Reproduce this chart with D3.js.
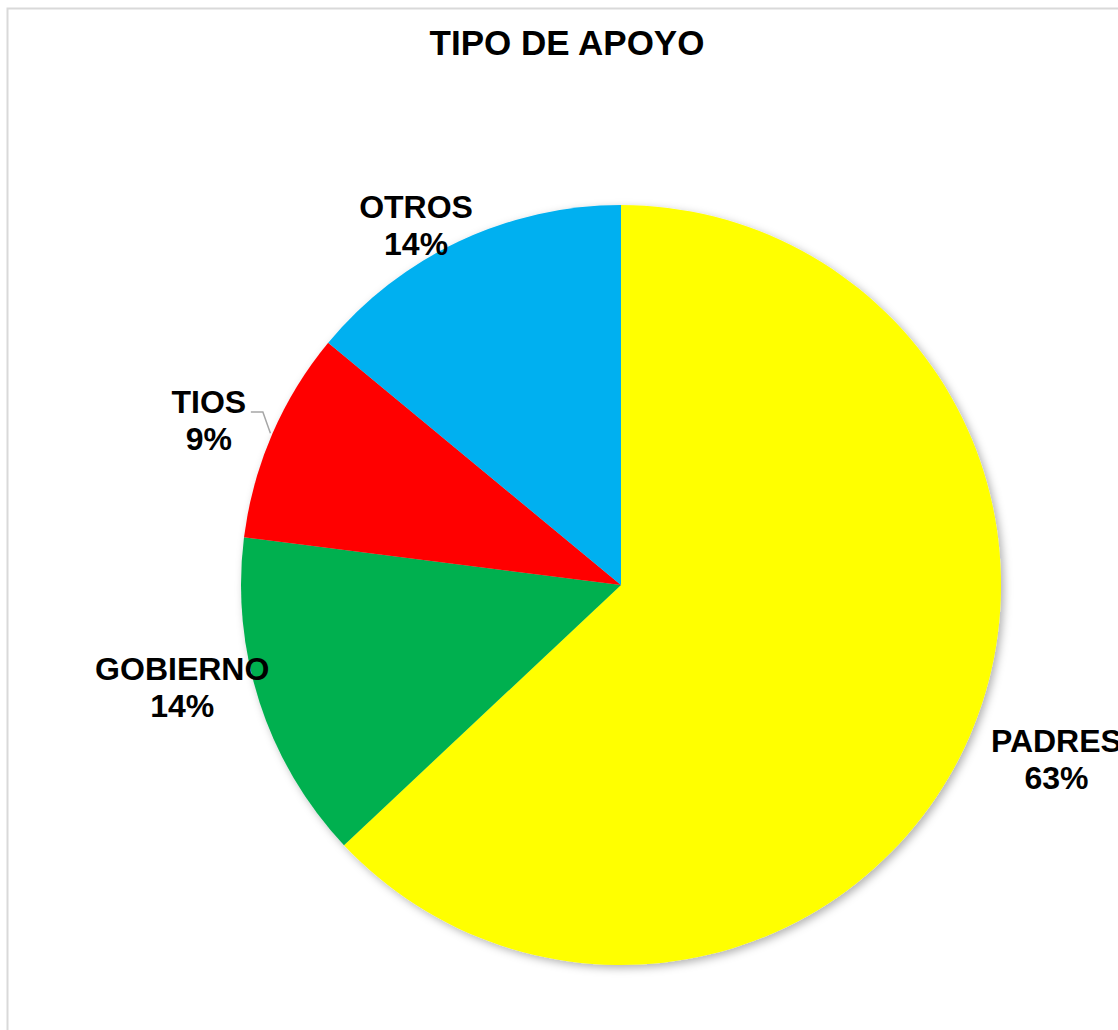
<!DOCTYPE html>
<html>
<head>
<meta charset="utf-8">
<script src="https://cdnjs.cloudflare.com/ajax/libs/d3/7.8.5/d3.min.js"></script>
<style>
  html, body { margin: 0; padding: 0; background: #fff; overflow: hidden; }
  svg { display: block; font-family: "Liberation Sans", Arial, sans-serif; }
</style>
</head>
<body>
<svg id="chart" width="1118" height="1030"></svg>
<script>
// Chart data
const title = "TIPO DE APOYO";
const categories = ["PADRES", "GOBIERNO", "TIOS", "OTROS"];
const values = [63, 14, 9, 14];
const colors = ["#FFFF00", "#00B050", "#FF0000", "#00B0F0"];

// Label placement (angle in degrees clockwise from 12 o'clock, distance from centre)
const labelAngle = [113, 255.6, 290.5, 329.6];
const labelDist = [473, 453, 440, 405];

const W = 1118, H = 1030;
const cx = 621, cy = 585, R = 380;

const svg = d3.select("#chart");

const defs = svg.append("defs");
const shadow = defs.append("filter").attr("id", "pieShadow")
  .attr("x", "-10%").attr("y", "-10%").attr("width", "120%").attr("height", "120%");
shadow.append("feDropShadow")
  .attr("dx", 3).attr("dy", 3).attr("stdDeviation", 4)
  .attr("flood-color", "#000").attr("flood-opacity", 0.3);

// chart area frame
svg.append("rect")
  .attr("x", 7.5).attr("y", 8.5)
  .attr("width", W + 50).attr("height", H + 50)
  .attr("fill", "#fff")
  .attr("stroke", "#d9d9d9").attr("stroke-width", 2);

// title
svg.append("text")
  .attr("x", 567).attr("y", 55)
  .attr("text-anchor", "middle")
  .attr("font-size", 35).attr("font-weight", "bold")
  .attr("fill", "#000")
  .text(title);

const data = categories.map((c, i) => ({ name: c, value: values[i], color: colors[i], i }));

const pie = d3.pie().sort(null).value(d => d.value);
const arc = d3.arc().innerRadius(0).outerRadius(R);
const arcs = pie(data);

const g = svg.append("g").attr("transform", `translate(${cx},${cy})`);

g.append("g").attr("filter", "url(#pieShadow)")
  .selectAll("path")
  .data(arcs)
  .join("path")
  .attr("d", arc)
  .attr("fill", d => d.data.color);

// label positions
const toRad = a => a * Math.PI / 180;
const labelPos = data.map((d, i) => {
  const a = toRad(labelAngle[i]);
  return [labelDist[i] * Math.sin(a), -labelDist[i] * Math.cos(a)];
});

// leader line for the small TIOS slice
const tiosIdx = categories.indexOf("TIOS");
const tiosArc = arcs[tiosIdx];
const tp = labelPos[tiosIdx];
const midA = (tiosArc.startAngle + tiosArc.endAngle) / 2;
const edge = [ (R + 2) * Math.sin(midA), -(R + 2) * Math.cos(midA) ];
g.append("polyline")
  .attr("points", [
    [tp[0] + 42, tp[1] - 19],
    [tp[0] + 54, tp[1] - 19],
    [edge[0], edge[1]]
  ].map(p => p.join(",")).join(" "))
  .attr("fill", "none")
  .attr("stroke", "#a6a6a6")
  .attr("stroke-width", 1.5);

const labels = g.selectAll("text.lbl")
  .data(data)
  .join("text")
  .attr("class", "lbl")
  .attr("text-anchor", "middle")
  .attr("font-size", 32).attr("font-weight", "bold")
  .attr("fill", "#000")
  .attr("transform", (d, i) => `translate(${labelPos[i][0]},${labelPos[i][1]})`);

labels.append("tspan").attr("x", 0).attr("y", -18).text(d => d.name);
labels.append("tspan").attr("x", 0).attr("y", 19).text(d => d.value + "%");
</script>
</body>
</html>
